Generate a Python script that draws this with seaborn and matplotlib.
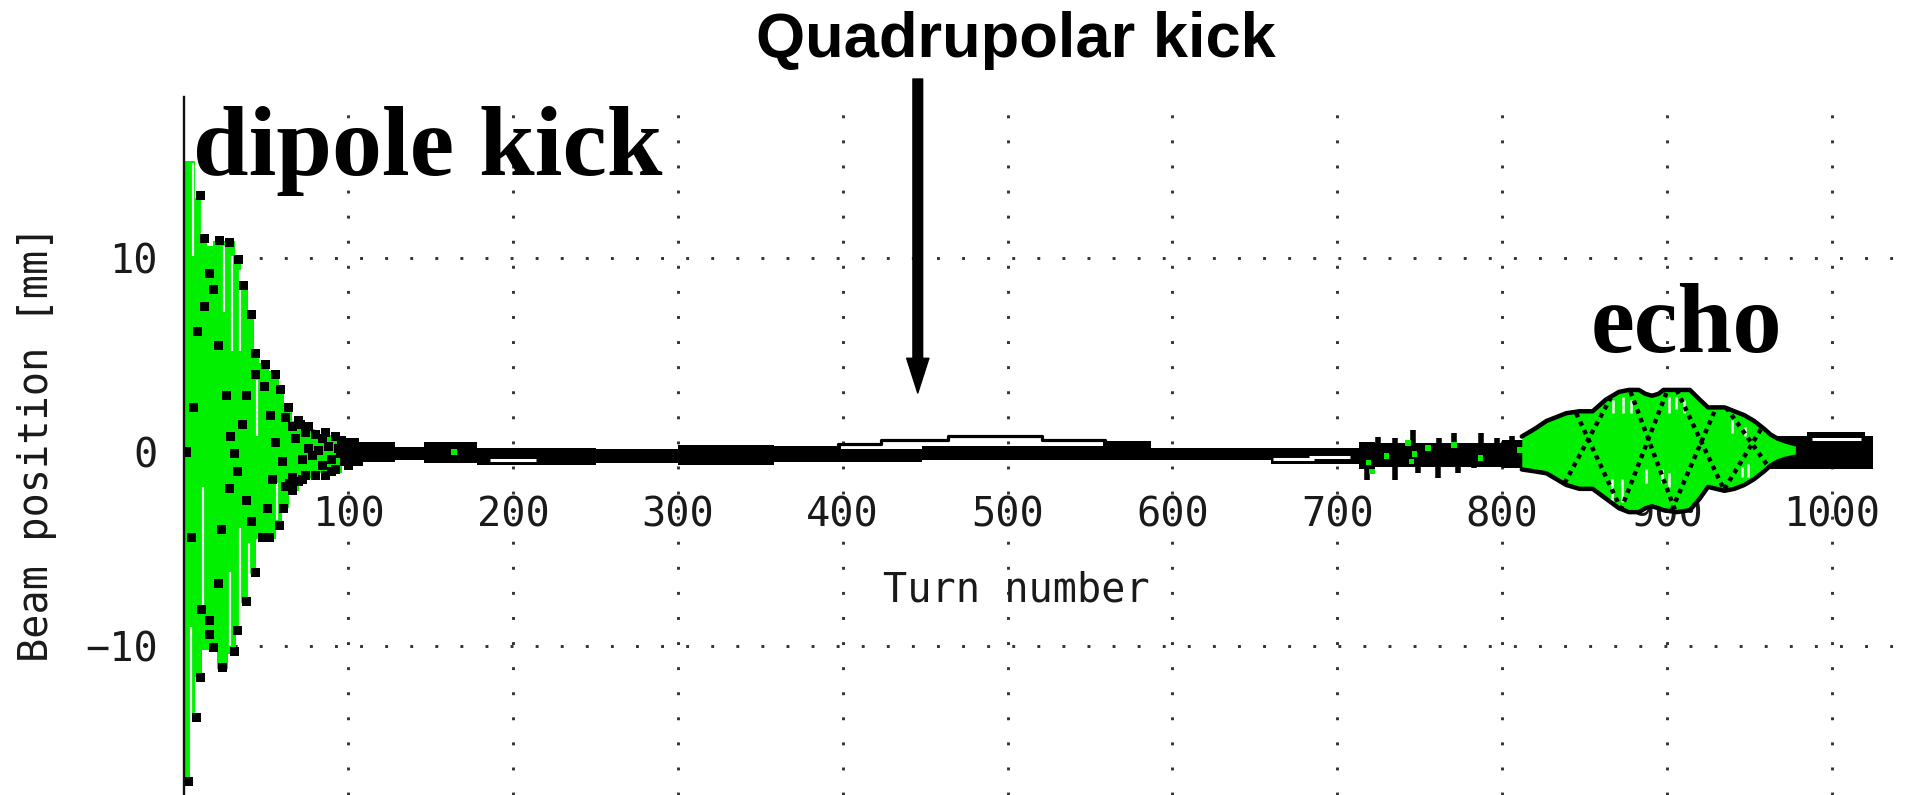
import numpy as np
import pandas as pd
import matplotlib
matplotlib.use("Agg")
import matplotlib.pyplot as plt
import seaborn as sns

# ---------------- data ----------------
turn_ticks = [100, 200, 300, 400, 500, 600, 700, 800, 900, 1000]
turn_minor = [50, 150, 250, 350, 450, 550, 650, 750, 850, 950, 1050]
pos_ticks = [-10, 0, 10]
pos_minor = [-15, -5, 5, 15]

# dipole kick: upper / lower envelope of the green oscillation (step-like)
dip_hi_t = [0, 7, 12, 14, 18, 31, 35, 39, 43, 46, 52, 58, 61, 66, 72, 80, 92, 100]
dip_hi = [15.0, 13.1, 11.0, 10.6, 10.9, 10.0, 8.7, 7.2, 5.3, 4.6, 4.2, 3.4, 2.4, 1.6, 1.2, 0.9, 0.7, 0.6]
dip_lo_t = [0, 4, 7, 11, 20, 27, 32, 35, 40, 44, 56, 60, 64, 70, 82, 96, 100]
dip_lo = [-17.0, -13.8, -11.6, -10.2, -11.2, -10.4, -9.3, -7.8, -6.3, -4.5, -3.8, -2.9, -2.0, -1.4, -1.1, -0.7, -0.6]

# white gaps inside the dipole green
dip_white_t = [5.8, 10.9, 24.3, 29.3, 34.5, 44.3, 4.7, 11.8, 27.9, 34.3, 39.9, 44.9, 56.9]
dip_white_top = [14.9, 13.0, 10.6, 10.1, 9.4, 3.7, -9.0, -1.8, -6.2, -3.9, -4.7, -4.5, -1.6]
dip_white_bot = [10.1, 10.9, 7.2, 5.2, 5.2, 0.8, -16.5, -8.0, -10.0, -9.0, -7.5, -5.9, -3.5]

# black sample dots (dipole region)
dot_t = [10.3, 12.9, 21.9, 27.9, 33.3, 15.5, 17.9, 36.3, 12.9, 40.9, 8.2, 20.9, 43.5, 49.9, 43.5,
         55.9, 48.9, 58.9, 25.9, 38.3, 5.8, 63.5, 52.9, 35.9, 28.3, 55.9, 30.9, 1.9,
         32.9, 27.9, 53.9, 59.9, 37.9, 50.9, 60.9, 40.9, 57.9, 22.9, 4.9, 47.9, 51.9, 43.5,
         20.9, 38.3, 10.9, 15.5, 15.5, 32.9, 17.9, 30.9, 23.9, 10.3, 7.9, 2.8, 65.9, 71.9,
         65.9, 71.0, 74.0, 68.0, 80.0, 84.0, 88.0, 82.0, 78.0, 84.0, 90.0, 95.0, 100.0, 98.0,
         92.0, 86.0, 66.0, 64.0, 74.0, 62.0, 70.0, 76.0, 86.0, 92.0, 96.0, 104.0, 62.0, 70.0,
         80.0, 90.0, 100.0, 106.0, 76.0, 72.0, 94.0]
dot_v = [13.2, 11.0, 10.9, 10.8, 9.9, 9.2, 8.4, 8.6, 7.5, 7.1, 6.2, 5.5, 5.1, 4.5, 4.0,
         4.0, 3.4, 3.2, 2.9, 2.9, 2.3, 2.3, 1.9, 1.4, 0.8, 0.5, -0.1, 0.0,
         -1.0, -1.9, -1.4, -0.5, -2.5, -2.9, -2.9, -3.6, -3.8, -4.0, -4.4, -4.4, -4.4, -6.2,
         -6.8, -7.7, -8.1, -8.7, -9.4, -9.2, -10.1, -10.3, -11.1, -11.6, -13.7, -17.0, -2.0, -1.4,
         1.3, 1.4, 1.0, 0.7, 0.9, 0.7, 0.3, 0.1, -0.2, -0.7, -0.4, -0.1, 0.3, -0.4,
         -0.9, -1.2, -1.3, -1.6, -1.2, 1.8, 1.6, 1.3, 1.0, 0.8, 0.6, 0.5, -1.8, -1.5,
         -1.2, -1.0, -0.7, -0.5, 0.2, -0.4, 0.2]

# thick black band of the decohered beam (upper / lower edge, step-like)
band_t = [95, 104, 128, 146, 178, 250, 300, 358, 399, 448, 558, 587, 660, 713, 723, 800, 815, 985, 1020, 1025]
band_hi = [0.7, 0.5, 0.26, 0.5, 0.2, 0.15, 0.35, 0.3, 0.15, 0.3, 0.55, 0.2, 0.2, 0.5, 0.45, 0.6, 0.8, 1.05, 0.8, 0.8]
band_lo = [-0.7, -0.5, -0.4, -0.57, -0.67, -0.55, -0.65, -0.5, -0.5, -0.4, -0.4, -0.4, -0.6, -0.9, -0.75, -0.8, -0.9, -0.9, -0.9, -0.9]

# white slots inside the band
slot_t0 = [186, 661, 683, 988]
slot_t1 = [214, 686, 708, 1018]
slot_v = [-0.4, -0.35, -0.27, 0.68]

# outline of the small quadrupolar-kick bump
quad_t = [397, 397, 423, 464, 521, 559, 559]
quad_v = [0.1, 0.4, 0.6, 0.84, 0.6, 0.6, 0.3]

# pre-echo spikes
spike_up_t = [725, 735, 746, 762, 771, 787, 797, 806]
spike_up_v = [0.75, 0.7, 1.13, 0.7, 0.96, 0.96, 0.7, 0.8]
spike_dn_t = [718, 735, 749, 761, 773, 783]
spike_dn_v = [-1.44, -1.44, -1.1, -1.35, -1.1, -0.84]

# green specks inside the band
speck_t = [164, 719, 721, 730, 743, 745, 747, 755, 771, 787, 811]
speck_v = [0.0, -0.55, -1.0, -0.2, 0.45, -0.5, -0.1, 0.2, 0.35, -0.3, 0.1]

# echo envelope
echo_t = [812, 820, 827, 833, 839, 847, 855, 863, 871, 877, 883, 887, 891, 895, 898, 906,
          914, 920, 925, 930, 935, 941, 947, 953, 959, 963, 967, 972, 978]
echo_hi = [0.8, 1.2, 1.6, 1.8, 2.0, 2.1, 2.1, 2.7, 3.1, 3.2, 3.2, 3.0, 2.9, 3.0, 3.2, 3.2,
           3.2, 2.7, 2.3, 2.3, 2.3, 2.1, 1.9, 1.6, 1.2, 0.9, 0.7, 0.55, 0.4]
echo_lo = [-0.9, -1.0, -1.1, -1.4, -1.7, -1.9, -1.9, -2.4, -2.9, -3.1, -3.1, -2.9, -2.8, -2.9, -3.0, -3.1,
           -3.0, -2.4, -1.8, -1.9, -2.0, -1.9, -1.7, -1.4, -1.0, -0.7, -0.5, -0.35, -0.25]

# white hatching inside the echo
echo_white_t = [867.2, 873.3, 878.2, 901.3, 905.3, 910.3, 887.3, 897.3, 901.3, 945.4, 949.4, 939.4, 947.4, 867.0, 873.0]
echo_white_top = [2.7, 2.85, 2.7, 2.85, 2.85, 2.7, -0.9, -0.9, -1.1, -0.75, -0.6, 1.65, 1.3, -1.4, -1.4]
echo_white_bot = [2.0, 2.0, 2.0, 2.0, 2.2, 2.0, -1.6, -1.6, -1.8, -1.3, -1.3, 1.0, 0.8, -2.6, -2.6]

# dotted diagonals crossing inside the echo
diag_t0 = [845, 878, 906, 936, 838, 872, 903, 935]
diag_v0 = [2.0, 3.1, 3.2, 2.3, -1.6, -3.0, -3.0, -1.9]
diag_t1 = [872, 905, 935, 962, 866, 900, 930, 958]
diag_v1 = [-2.9, -3.0, -2.0, -0.8, 2.8, 3.1, 2.3, 1.3]

GREEN = "#00f000"
INK = "#000000"

# ---------------- figure ----------------
sns.set_style("white")
plt.rcParams["font.family"] = ["DejaVu Sans Mono", "DejaVu Sans"]
plt.rcParams["text.color"] = INK

W, H = 1914, 795
X0, YTOP, Y0PIX, PX_PER_TURN, PX_PER_MM = 183.6, 97, 452, 1.664, 19.4
fig = plt.figure(figsize=(W / 100, H / 100), dpi=100)
ax = fig.add_axes([X0 / W, 0, 1 - X0 / W, 1 - YTOP / H])
ax.set_xlim(0, (W - X0) / PX_PER_TURN)
ax.set_ylim((Y0PIX - H) / PX_PER_MM, (Y0PIX - YTOP) / PX_PER_MM)
ax.set_axisbelow(True)

# dipole green
ax.fill_between(dip_hi_t, 0, dip_hi, step="post", color=GREEN, lw=0, zorder=2)
ax.fill_between(dip_lo_t, dip_lo, 0, step="post", color=GREEN, lw=0, zorder=2)
ax.vlines(dip_white_t, dip_white_bot, dip_white_top, color="#f4fff4", lw=1.6, zorder=2.2)

# band
ax.fill_between(band_t, band_lo, band_hi, step="post", color="black", lw=0, zorder=2.4)
ax.hlines(slot_v, slot_t0, slot_t1, color="white", lw=2.2, zorder=2.45)
ax.vlines(spike_up_t, 0, spike_up_v, color="black", lw=4, zorder=2.5)
ax.vlines(spike_dn_t, spike_dn_v, 0, color="black", lw=4, zorder=2.5)
sns.scatterplot(x=speck_t, y=speck_v, marker="s", s=16, color=GREEN, edgecolor="none",
                linewidth=0, ax=ax, zorder=2.55)
sns.lineplot(x=quad_t, y=quad_v, drawstyle="steps-post", estimator=None, sort=False,
             color="black", lw=2.3, ax=ax, zorder=3)

# echo
ax.fill_between(echo_t, echo_lo, echo_hi, color=GREEN, lw=0, zorder=2.6)
ax.vlines(echo_white_t, echo_white_bot, echo_white_top, color="#f4fff4", lw=1.8, zorder=2.7)
sns.lineplot(x=echo_t, y=echo_hi, estimator=None, sort=False, color="black", lw=3.2, ax=ax, zorder=3)
sns.lineplot(x=echo_t, y=echo_lo, estimator=None, sort=False, color="black", lw=3.2, ax=ax, zorder=3)
diag = pd.DataFrame({
    "t": [v for pair in zip(diag_t0, diag_t1) for v in pair],
    "v": [v for pair in zip(diag_v0, diag_v1) for v in pair],
    "seg": [i for i in range(len(diag_t0)) for _ in range(2)],
})
n_before = len(ax.lines)
sns.lineplot(data=diag, x="t", y="v", units="seg", estimator=None, sort=False,
             color="black", lw=3.2, ax=ax, zorder=3)
for ln in ax.lines[n_before:]:
    ln.set_linestyle((0, (1, 1.1)))

# dots
sns.scatterplot(x=dot_t, y=dot_v, marker="s", s=42, color="black", edgecolor="none",
                linewidth=0, ax=ax, zorder=4)

# axes styling
for s in ["top", "right", "bottom"]:
    ax.spines[s].set_visible(False)
ax.spines["bottom"].set_position(("data", 0))
ax.spines["left"].set_color("#111111")
ax.spines["left"].set_linewidth(1.7)
ax.spines["left"].set_zorder(5)

ax.set_xticks(turn_ticks)
ax.set_xticks(turn_minor, minor=True)
ax.set_yticks(pos_ticks)
ax.set_yticks(pos_minor, minor=True)
ax.set_xticklabels([str(t) for t in turn_ticks])
ax.tick_params(axis="x", which="both", direction="inout", length=18, width=1.8,
               color="black", labelsize=29, pad=22.5, labelcolor="#1a1a1a")
ax.tick_params(axis="y", which="both", direction="inout", length=10, width=1.8,
               color="black", labelsize=29, pad=13.4, labelcolor="#1a1a1a")
ax.grid(True, which="major", color="#333333", linewidth=2.1, linestyle=(0, (1, 7.6)))
ax.yaxis.get_major_ticks()[1].gridline.set_visible(False)

ax.set_xlabel("Turn number", fontsize=29, color="#1a1a1a")
ax.xaxis.set_label_coords(505.6, (Y0PIX - 590) / PX_PER_MM, transform=ax.transData)
ax.xaxis.label.set_va("center")
ax.set_ylabel("Beam position [mm]", fontsize=29, color="#1a1a1a")
ax.yaxis.set_label_coords((37 - X0) / (W - X0), 0.503)
ax.yaxis.label.set_va("center")

# annotations
fig.text(1016 / W, 1 - 57 / H, "Quadrupolar kick", ha="center", va="baseline", color=INK,
         fontsize=45.5, fontweight="bold", family="Liberation Sans")
fig.text(193 / W, 1 - 175 / H, "dipole kick", ha="left", va="baseline", color=INK,
         fontsize=72, fontweight="bold", family="Liberation Serif")
fig.text(1591 / W, 1 - 352 / H, "echo", ha="left", va="baseline", color=INK,
         fontsize=71, fontweight="bold", family="Liberation Serif")
ax.annotate("", xy=(445.5, (Y0PIX - 393) / PX_PER_MM), xytext=(445.5, (Y0PIX - 79) / PX_PER_MM),
            arrowprops=dict(facecolor="black", edgecolor="black", width=7, headwidth=16,
                            headlength=25, shrink=0), annotation_clip=False)

fig.savefig("out.png", dpi=100)
